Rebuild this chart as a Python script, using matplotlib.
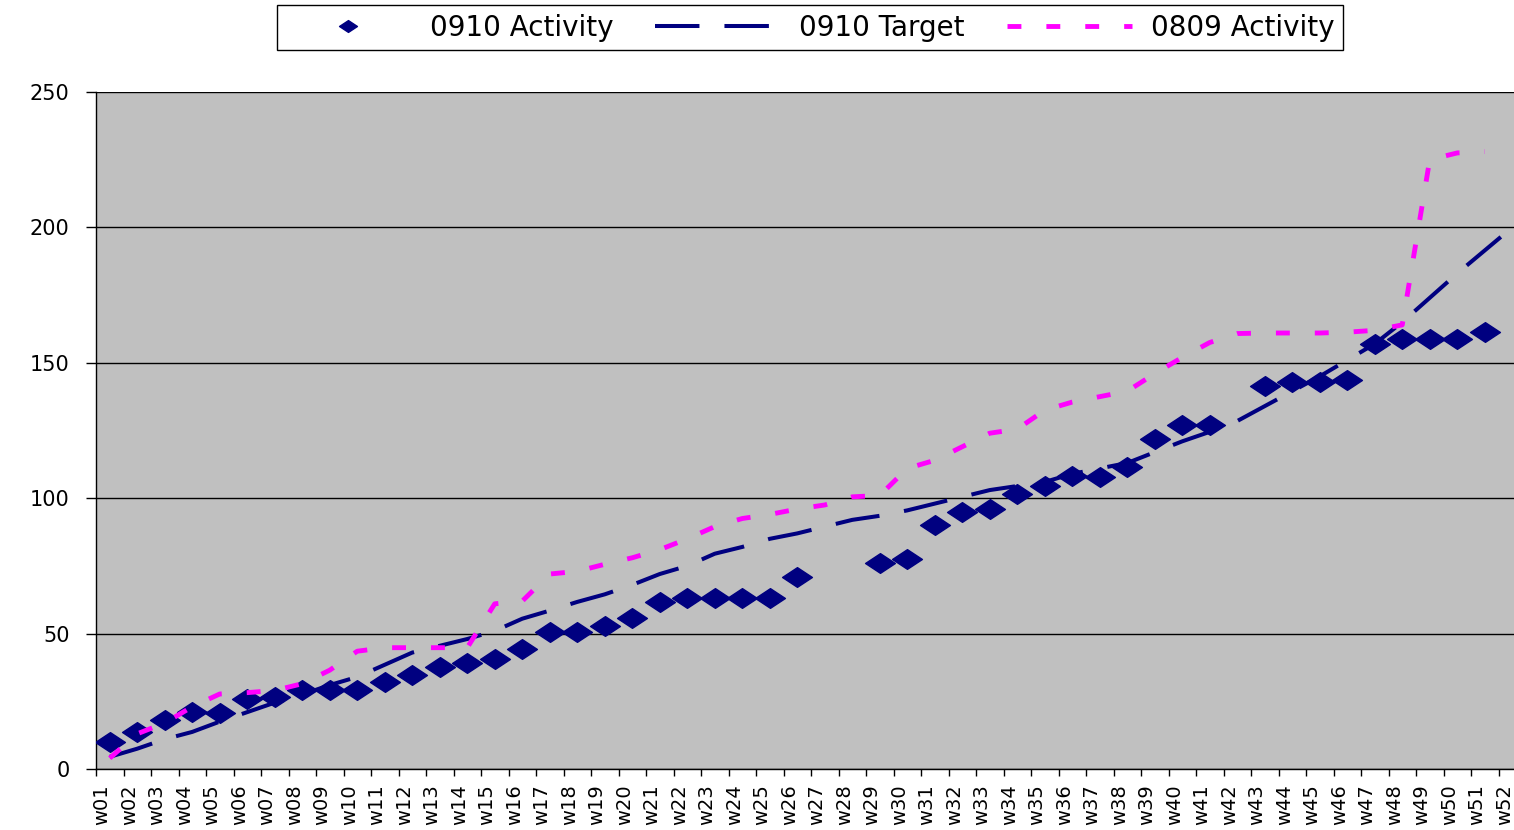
import matplotlib
matplotlib.use("Agg")
import matplotlib.pyplot as plt
import matplotlib.transforms as mtransforms
from matplotlib.path import Path
import numpy as np

nan = np.nan

weeks = [f"w{i:02d}" for i in range(1, 53)]

activity_0910 = [10, 13.8, 18, 21, 20.8, 26, 26.7, 29, 29, 29,
                 32, 34.7, 37.6, 39.3, 40.5, 44.2, 50.7, 50.7, 52.8, 55.9,
                 61.8, 63, 63, 63, 63, 71, nan, nan, 76.2, 77.5,
                 90, 95, 95.9, 101.4, 104.5, 108.2, 108, 111.6, 121.9, 127,
                 127, nan, 141.5, 143, 143, 143.6, 156.8, 158.8, 158.8, 158.8,
                 161.3, nan]

target_0910 = [4.5, 7.5, 11, 13.7, 17.5, 21, 24.5, 27.5, 31, 34,
               38.5, 43, 45.5, 48, 51, 55.5, 58.5, 61.7, 64.5, 68,
               72, 75, 79.5, 82, 85, 87, 89.5, 92, 93.5, 95.5,
               98, 100.5, 103, 104.5, 106, 109, 111, 113, 117, 121,
               124.5, 128.5, 134, 139.5, 145, 151, 157, 165, 174, 183,
               191.5, 200]

activity_0809 = [4, 13, 17, 23, 27.7, 28.2, 29, 31.5, 36.5, 43.5,
                 44.8, 44.8, 44.8, 44.8, 61, 62, 72, 73, 75.6, 78,
                 81, 85, 89.5, 92.5, 94, 96, 97.5, 100.5, 101, 111,
                 114, 119, 124, 125.5, 132.5, 135.5, 137.5, 139.5, 146, 152,
                 157.5, 160.8, 161, 161, 161, 161.3, 162, 164, 225, 227.5,
                 228, nan]

NAVY = "#000080"
MAGENTA = "#FF00FF"

plt.rcParams["lines.scale_dashes"] = False
plt.rcParams["font.family"] = "DejaVu Sans"

# flattened diamond like the Excel marker
diamond = Path([(-1, 0), (0, 0.66), (1, 0), (0, -0.66), (-1, 0)],
               [Path.MOVETO, Path.LINETO, Path.LINETO, Path.LINETO, Path.CLOSEPOLY])

W, H = 1514, 830
fig = plt.figure(figsize=(W / 100, H / 100), dpi=100)
fig.patch.set_facecolor("white")

left_px, right_px = 96, 1526
ax = fig.add_axes([left_px / W, (H - 769) / H, (right_px - left_px) / W, (769 - 92) / H])
ax.set_facecolor("#C0C0C0")

x = np.arange(len(weeks))

ax.plot(x, activity_0910, linestyle="none", marker=diamond, markersize=21.5,
        color=NAVY, label="0910 Activity", zorder=3)
ax.plot(x, target_0910, color=NAVY, linewidth=2.9, linestyle=(0, (32, 18)),
        label="0910 Target", zorder=4)
ax.plot(x, activity_0809, color=MAGENTA, linewidth=3.5, linestyle=(0, (10, 18)),
        label="0809 Activity", zorder=5)

ax.set_xlim(-0.5, len(weeks) - 0.5)
ax.set_ylim(0, 250)

ax.set_yticks([0, 50, 100, 150, 200, 250])
ax.yaxis.grid(True, color="black", linewidth=1)
ax.set_axisbelow(True)
ax.tick_params(axis="y", length=7, width=1, pad=12, labelsize=15)

ax.set_xticks(x)
ax.set_xticklabels(weeks, rotation=90, fontsize=14)
ax.set_xticks(np.arange(-0.5, len(weeks)), minor=True)
ax.tick_params(axis="x", which="major", length=0, pad=11)
ax.tick_params(axis="x", which="minor", length=5, width=1)

offset = mtransforms.ScaledTranslation(-8 / 100, 0, fig.dpi_scale_trans)
for lab in ax.get_xticklabels():
    lab.set_transform(lab.get_transform() + offset)

for side in ("top", "right"):
    ax.spines[side].set_visible(False)
for side in ("left", "bottom"):
    ax.spines[side].set_color("black")
    ax.spines[side].set_linewidth(1)

leg = fig.legend(loc="center", bbox_to_anchor=(810 / W, (H - 27.5) / H),
                 ncol=3, fontsize=20, frameon=True, fancybox=False,
                 edgecolor="black", framealpha=1, markerscale=0.6,
                 handlelength=4.5, handletextpad=0.7, columnspacing=1.5,
                 borderpad=0.3)
leg.get_frame().set_linewidth(1)

fig.savefig("out.png", dpi=100, facecolor="white")
